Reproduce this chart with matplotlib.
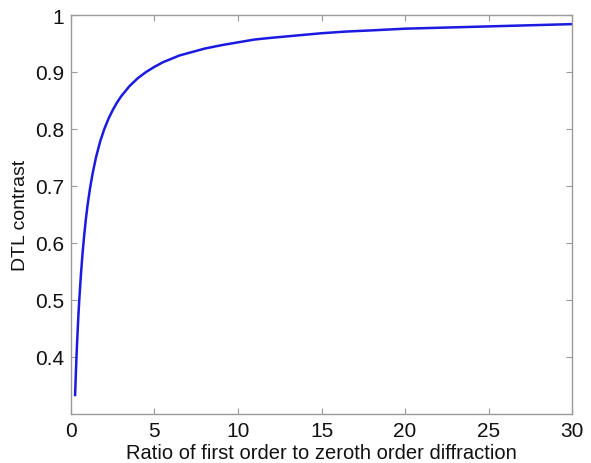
import matplotlib
matplotlib.use("Agg")
import matplotlib.pyplot as plt

plt.rcParams['font.family'] = ['Liberation Sans', 'DejaVu Sans']

ratio = [0.25, 0.3, 0.35, 0.4, 0.45, 0.5, 0.6, 0.7, 0.8, 0.9, 1.0, 1.15, 1.3, 1.5, 1.75,
         2.0, 2.25, 2.5, 2.75, 3.0, 3.5, 4.0, 4.5, 5.0, 5.5, 6.0, 6.5, 7.0, 8.0, 9.0,
         10.0, 11.0, 12.0, 13.5, 15.0, 16.5, 18.0, 20.0, 22.5, 25.0, 27.5, 30.0]
contrast = [0.333, 0.375, 0.412, 0.444, 0.474, 0.500, 0.545, 0.583, 0.615, 0.643, 0.667,
            0.697, 0.722, 0.750, 0.778, 0.800, 0.818, 0.833, 0.846, 0.857, 0.875, 0.889,
            0.900, 0.909, 0.917, 0.923, 0.929, 0.933, 0.941, 0.947, 0.952, 0.957, 0.960,
            0.964, 0.968, 0.971, 0.973, 0.976, 0.978, 0.980, 0.982, 0.984]
xticks = [0, 5, 10, 15, 20, 25, 30]
yticks = [0.4, 0.5, 0.6, 0.7, 0.8, 0.9, 1.0]
ytick_labels = ['0.4', '0.5', '0.6', '0.7', '0.8', '0.9', '1']

fig = plt.figure(figsize=(5.91, 4.64), dpi=100)
ax = fig.add_axes([0.120, 0.106, 0.848, 0.8595])
ax.plot(ratio, contrast, color='#1a1ae0', linewidth=1.8)
ax.set_xlim(0, 30)
ax.set_ylim(0.3, 1.0)
ax.set_xticks(xticks)
ax.set_xticklabels([str(t) for t in xticks])
ax.set_yticks(yticks)
ax.set_yticklabels(ytick_labels)
gray = '#9a9a9a'
for s in ax.spines.values():
    s.set_color(gray)
    s.set_linewidth(1.0)
ax.tick_params(direction='in', top=True, right=True, length=4, color=gray,
               labelsize=15, labelcolor='#111111', pad=5)
ax.set_xlabel('Ratio of first order to zeroth order diffraction', fontsize=14.5, color='#111111', labelpad=2)
ax.set_ylabel('DTL contrast', fontsize=14, color='#111111', labelpad=4)
fig.savefig('out.png', dpi=100)
